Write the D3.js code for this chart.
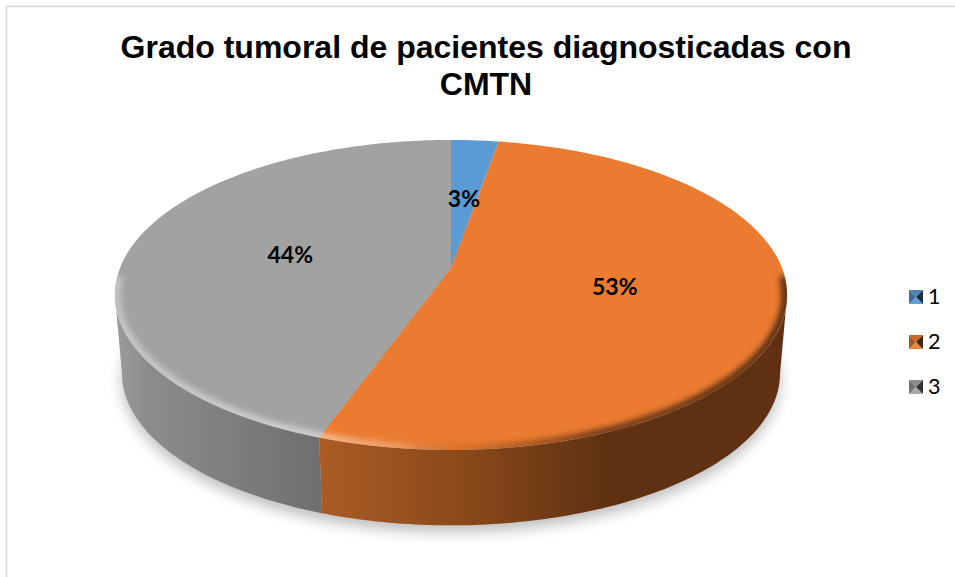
<!DOCTYPE html>
<html lang="en">
<head>
    <meta charset="UTF-8">
    <title>Grado tumoral</title>
    <style>
        html, body { margin: 0; padding: 0; background: #fff; overflow: hidden; }
        .title { font-family: "Liberation Sans", Arial, sans-serif; font-weight: bold; font-size: 32px; fill: #000; text-anchor: middle; }
        .pct { font-family: Lato, sans-serif; font-weight: bold; font-size: 23px; fill: #000; text-anchor: middle; dominant-baseline: central; }
        .leg { font-family: Lato, sans-serif; font-size: 21.5px; fill: #000; dominant-baseline: central; }
    </style>
    <script src="https://d3js.org/d3.v7.min.js"></script>
</head>
<body>
    <svg width="955" height="577"></svg>
    <script>
        const titleLines = ["Grado tumoral de pacientes diagnosticadas con", "CMTN"];
        const categories = ["1", "2", "3"];
        const values = [2.7, 52.7, 44.6];
        const pctLabels = ["3%", "53%", "44%"];
        const colors = ["#5b9bd5", "#eb7b30", "#a2a2a2"];
        const wallStops = [
            [[0, "#3a6a96"], [1, "#2a4d6e"]],
            [[0, "#ab5c25"], [0.35, "#864619"], [0.62, "#5f3112"], [1, "#5f3112"]],
            [[0, "#9a9a9a"], [0.15, "#8c8c8c"], [1, "#6e6e6e"]]
        ];

        const svg = d3.select("svg");
        const defs = svg.append("defs");

        // perspective disc: top face and the smaller bottom face
        const k = 0.174;
        const topFace = {cx: 451, cy: 268, a: 331, b: 150.3};
        const botFace = {cx: 451, cy: 347, a: 324, b: 147.3};
        function project(face, theta, r = 1) {
            const s = Math.sin(theta) * r, c = Math.cos(theta) * r;
            const w = 1 + k * c;
            return [face.cx + face.a * s / w, face.cy - face.b * c / w];
        }
        function arcPoints(face, a0, a1, r = 1) {
            const n = Math.max(2, Math.ceil(Math.abs(a1 - a0) * 60));
            return d3.range(n + 1).map(i => project(face, a0 + (a1 - a0) * i / n, r));
        }
        const line = d3.line();

        // angles where the disc outline is widest, the wall ends there
        const sideRight = Math.acos(-k);
        const sideLeft = 2 * Math.PI - sideRight;

        const slices = d3.pie().sort(null).value(d => d)(values);
        const color = d3.scaleOrdinal().domain(categories).range(colors);

        // frame
        svg.append("path")
            .attr("d", "M6.5,577V6.5H955")
            .attr("fill", "none").attr("stroke", "#d9d9d9").attr("stroke-width", 1.5);

        // title
        titleLines.forEach((t, i) => {
            svg.append("text").attr("class", "title")
                .attr("x", 486).attr("y", 58 + i * 37).text(t);
        });

        defs.append("filter").attr("id", "shadowBlur")
            .attr("x", "-10%").attr("y", "-10%").attr("width", "120%").attr("height", "120%")
            .append("feGaussianBlur").attr("stdDeviation", 7);
        defs.append("filter").attr("id", "rimBlur")
            .attr("x", "-5%").attr("y", "-5%").attr("width", "110%").attr("height", "110%")
            .append("feGaussianBlur").attr("stdDeviation", 3);

        // soft shadow under the disc
        const full = arcPoints(botFace, 0, 2 * Math.PI);
        svg.append("path")
            .attr("d", line(full) + "Z")
            .attr("transform", "translate(0,7)")
            .attr("fill", "#000").attr("opacity", 0.25)
            .attr("filter", "url(#shadowBlur)");

        // wall gradients, in page coordinates
        wallStops.forEach((stops, i) => {
            const xs = i === 1 ? [320, 780] : i === 2 ? [118, 325] : [451, 500];
            const g = defs.append("linearGradient").attr("id", "wall" + i)
                .attr("gradientUnits", "userSpaceOnUse")
                .attr("x1", xs[0]).attr("x2", xs[1]).attr("y1", 0).attr("y2", 0);
            stops.forEach(s => g.append("stop").attr("offset", s[0]).attr("stop-color", s[1]));
        });

        // walls, only the front part between the two widest points
        slices.forEach((d, i) => {
            const a0 = Math.max(d.startAngle, sideRight);
            const a1 = Math.min(d.endAngle, sideLeft);
            if (a1 <= a0) return;
            const pts = arcPoints(topFace, a0, a1).concat(arcPoints(botFace, a1, a0));
            svg.append("path").attr("d", line(pts) + "Z").attr("fill", `url(#wall${i})`);
        });

        // top face slices
        slices.forEach((d, i) => {
            const pts = [project(topFace, 0, 0)].concat(arcPoints(topFace, d.startAngle, d.endAngle));
            svg.append("path").attr("d", line(pts) + "Z").attr("fill", color(categories[i]));
        });

        // bevel on the rim, light on the left and dark on the right
        const rim = defs.append("linearGradient").attr("id", "rimGrad")
            .attr("gradientUnits", "userSpaceOnUse")
            .attr("x1", 115).attr("x2", 787).attr("y1", 0).attr("y2", 0);
        [[0, "#fff", 0.45], [0.3, "#fff", 0.6], [0.42, "#fff", 0.3], [0.52, "#000", 0.1],
         [0.72, "#000", 0.6], [1, "#000", 0.75]].forEach(s => {
            rim.append("stop").attr("offset", s[0]).attr("stop-color", s[1]).attr("stop-opacity", s[2]);
        });
        defs.append("clipPath").attr("id", "faceClip")
            .append("path").attr("d", line(arcPoints(topFace, 0, 2 * Math.PI)) + "Z");
        svg.append("g").attr("clip-path", "url(#faceClip)")
            .append("path")
            .attr("d", line(arcPoints(topFace, sideRight - 0.12, sideLeft + 0.12, 0.995)))
            .attr("fill", "none")
            .attr("stroke", "url(#rimGrad)")
            .attr("stroke-width", 7)
            .attr("filter", "url(#rimBlur)");

        // percent labels
        slices.forEach((d, i) => {
            const p = project(topFace, (d.startAngle + d.endAngle) / 2, 0.5);
            svg.append("text").attr("class", "pct")
                .attr("x", p[0]).attr("y", p[1] - 1.5).text(pctLabels[i]);
        });

        // legend with bevelled squares
        const legendY = d3.scalePoint().domain(categories).range([297, 387]);
        const size = 14, lx = 909;
        const tone = (c, f) => d3.interpolateRgb(c, f > 0 ? "#fff" : "#000")(Math.abs(f));
        categories.forEach(cat => {
            const y0 = legendY(cat) - size / 2, c = color(cat), m = size / 2;
            const g = svg.append("g").attr("transform", `translate(${lx},${y0})`);
            const tri = (pts, fill) => g.append("path").attr("d", line(pts) + "Z").attr("fill", fill);
            tri([[0, 0], [size, 0], [m, m]], tone(c, -0.15));
            tri([[0, size], [size, size], [m, m]], tone(c, 0.05));
            tri([[0, 0], [0, size], [m, m]], tone(c, -0.3));
            tri([[size, 0], [size, size], [m, m]], tone(c, -0.7));
            svg.append("text").attr("class", "leg")
                .attr("x", lx + size + 5).attr("y", legendY(cat) - 1).text(cat);
        });
    </script>
</body>
</html>
